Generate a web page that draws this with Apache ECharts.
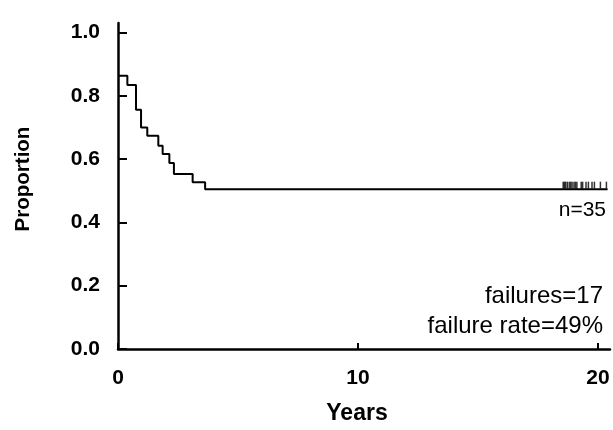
<!DOCTYPE html>
<html><head><meta charset="utf-8">
<script src="https://cdn.jsdelivr.net/npm/echarts@6/dist/echarts.min.js"></script>
<style>html,body{margin:0;padding:0;background:#fff}#c{width:613px;height:430px}</style>
</head><body><div id="c"></div>
<script>
// Kaplan-Meier step points: time (years) at which the proportion becomes the given value
const stepTimes = [0, 0.39, 0.75, 0.96, 1.22, 1.68, 1.86, 2.14, 2.33, 3.11, 3.63, 20.4];
const stepProps = [0.863, 0.834, 0.756, 0.700, 0.674, 0.642, 0.616, 0.588, 0.553, 0.527, 0.505, 0.505];
// censored observations (tick marks)
const censorTimes = [18.55, 18.6, 18.65, 18.72, 18.8, 18.86, 18.92, 19.0, 19.06, 19.12, 19.3, 19.36, 19.5, 19.6, 19.75, 19.85, 20.1, 20.35];
const censorProp = 0.505;
const yTicks = [0, 0.2, 0.4, 0.6, 0.8, 1.0];
const xTicks = [0, 10, 20];
const notes = ['n=35', 'failures=17', 'failure rate=49%'];

const FONT = '"Liberation Sans", Arial, sans-serif';
const chart = echarts.init(document.getElementById('c'), null, {renderer: 'canvas'});
chart.setOption({
  animation: false,
  backgroundColor: '#fff',
  grid: {left: 118, top: 23, width: 492, height: 328, containLabel: false},
  xAxis: {
    type: 'value', min: 0, max: 20.5,
    name: 'Years', nameLocation: 'middle', nameGap: 53,
    nameTextStyle: {fontFamily: FONT, fontSize: 23, fontWeight: 'bold', color: '#000', padding: [0, 14, 0, 0]},
    axisLine: {show: true, lineStyle: {color: '#000', width: 2.5}},
    axisTick: {show: true, inside: true, length: 6, lineStyle: {color: '#000', width: 2}, customValues: xTicks},
    axisLabel: {customValues: xTicks, fontFamily: FONT, fontSize: 21, fontWeight: 'bold', color: '#000', margin: 19,
      formatter: v => String(v)},
    splitLine: {show: false}
  },
  yAxis: {
    type: 'value', min: 0, max: 1.03,
    name: 'Proportion', nameLocation: 'middle', nameGap: 84,
    nameTextStyle: {fontFamily: FONT, fontSize: 20.5, fontWeight: 'bold', color: '#000', padding: [0, 0, 0, 14]},
    axisLine: {show: true, lineStyle: {color: '#000', width: 2.5}},
    axisTick: {show: true, inside: true, length: 9, lineStyle: {color: '#000', width: 2}, customValues: yTicks},
    axisLabel: {customValues: yTicks, fontFamily: FONT, fontSize: 21, fontWeight: 'bold', color: '#000', margin: 18,
      formatter: v => v.toFixed(1)},
    splitLine: {show: false}
  },
  series: [
    {
      type: 'line', step: 'end', symbol: 'none',
      data: stepTimes.map((t, i) => [t, stepProps[i]]),
      lineStyle: {color: '#000', width: 2}
    },
    {
      type: 'scatter', symbol: 'rect', symbolSize: [1.5, 7], symbolOffset: [0, -4],
      data: censorTimes.map(t => [t, censorProp]),
      itemStyle: {color: '#000'}
    }
  ],
  graphic: [
    {type: 'text', right: 7, top: 200, style: {text: notes[0], font: '21px ' + FONT, fill: '#000'}},
    {type: 'text', right: 10, top: 284, style: {text: notes[1], font: '24px ' + FONT, fill: '#000'}},
    {type: 'text', right: 10, top: 314, style: {text: notes[2], font: '24px ' + FONT, fill: '#000'}}
  ]
});
</script></body></html>
